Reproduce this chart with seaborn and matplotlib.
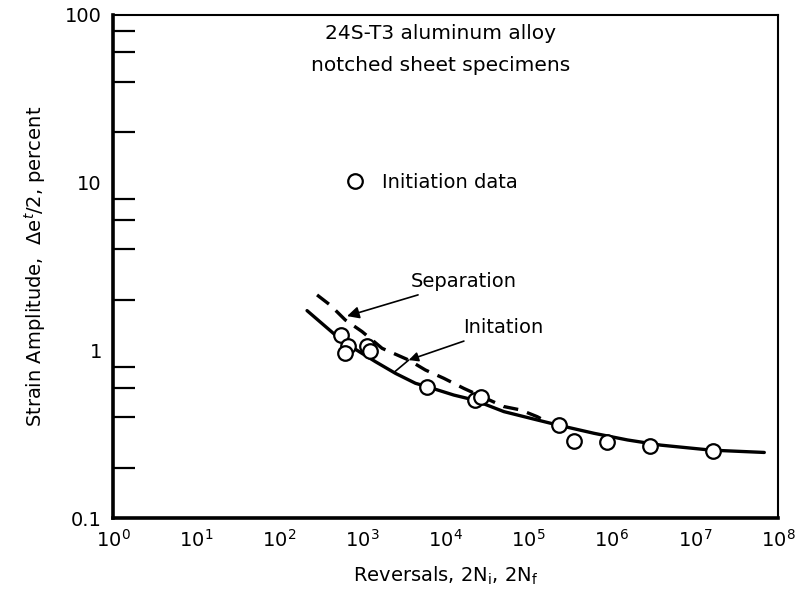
import numpy as np
import pandas as pd
import matplotlib
matplotlib.use("Agg")
import matplotlib.pyplot as plt
import seaborn as sns

# ---- data ----
init_x = [550, 677, 624, 1150, 1230, 6000, 22400, 26500, 232000, 352000, 870000, 2.9e6, 1.63e7]
init_y = [1.23, 1.06, 0.96, 1.06, 0.985, 0.607, 0.506, 0.525, 0.359, 0.288, 0.283, 0.27, 0.252]

solid_x = [216, 473, 785, 1435, 2500, 4350, 6020, 12600, 21900, 50400, 1.06e5, 2.22e5,
           6.12e5, 1.55e6, 3.9e6, 1.56e7, 6.84e7]
solid_y = [1.725, 1.234, 1.03, 0.856, 0.729, 0.636, 0.607, 0.541, 0.506, 0.431, 0.393, 0.359,
           0.320, 0.292, 0.272, 0.254, 0.246]

sep_x = [285, 411, 624, 992, 1727, 3610, 5740, 9550, 16600, 50400, 80100, 1.27e5, 1.6e5]
sep_y = [2.14, 1.86, 1.516, 1.293, 1.028, 0.875, 0.763, 0.681, 0.593, 0.462, 0.441, 0.402, 0.378]

x_ticks = [1e0, 1e1, 1e2, 1e3, 1e4, 1e5, 1e6, 1e7, 1e8]
x_ticklabels = [r"$10^{%d}$" % i for i in range(9)]
y_ticks = [0.1, 1, 10, 100]
y_ticklabels = ["0.1", "1", "10", "100"]

title_lines = ["24S-T3 aluminum alloy", "notched sheet specimens"]

sns.set_theme(style="white")
plt.rcParams['font.family'] = ['DejaVu Sans']
plt.rcParams['mathtext.fontset'] = 'dejavusans'

fig = plt.figure(figsize=(8.05, 6.06), dpi=100)
ax = fig.add_axes([113/805, 1-518/606, 665/805, 503/606])

df_solid = pd.DataFrame({"x": solid_x, "y": solid_y})
df_sep = pd.DataFrame({"x": sep_x, "y": sep_y})
df_init = pd.DataFrame({"x": init_x, "y": init_y})

ax.set_xscale("log")
ax.set_yscale("log")

sns.lineplot(data=df_solid, x="x", y="y", ax=ax, color="black", lw=2.4, sort=True)
sns.lineplot(data=df_sep, x="x", y="y", ax=ax, color="black", lw=2.4, sort=True,
             dashes=False, linestyle=(0, (4.5, 2.8)))
sns.scatterplot(data=df_init, x="x", y="y", ax=ax, marker="o", s=110,
                facecolor="white", edgecolor="black", linewidth=1.6, zorder=5)

ax.set_xlim(1, 1e8)
ax.set_ylim(0.1, 100)

ax.set_xticks(x_ticks)
ax.set_xticklabels(x_ticklabels, fontsize=14)
ax.xaxis.set_minor_locator(matplotlib.ticker.NullLocator())
ax.set_yticks(y_ticks)
ax.set_yticklabels(y_ticklabels, fontsize=14)
ax.yaxis.set_minor_locator(matplotlib.ticker.LogLocator(base=10, subs=[2, 4, 6, 8]))
ax.yaxis.set_minor_formatter(matplotlib.ticker.NullFormatter())

ax.tick_params(axis="x", which="major", direction="in", length=19, width=1.6, pad=8, colors="black")
ax.tick_params(axis="y", which="major", direction="in", length=27, width=1.6, pad=8, colors="black")
ax.tick_params(axis="y", which="minor", direction="in", length=16, width=1.6, colors="black", left=True)

for side in ["left", "bottom"]:
    ax.spines[side].set_linewidth(2.6)
    ax.spines[side].set_color("black")
for side in ["top", "right"]:
    ax.spines[side].set_linewidth(1.5)
    ax.spines[side].set_color("black")

ax.set_xlabel(r"Reversals, 2N$_{\mathregular{i}}$, 2N$_{\mathregular{f}}$", fontsize=14, labelpad=10, color="black")
ax.set_ylabel(r"Strain Amplitude,  $\Delta$e$^{t}$/2, percent", fontsize=14, labelpad=12, color="black")

ax.text(0.493, 0.964, title_lines[0], transform=ax.transAxes, ha="center", va="center", fontsize=14.5, color="black")
ax.text(0.493, 0.900, title_lines[1], transform=ax.transAxes, ha="center", va="center", fontsize=14.5, color="black")

# legend-like label
ax.scatter([824], [10.2], s=110, facecolor="white", edgecolor="black", linewidth=1.6, zorder=5)
ax.text(1740, 10.0, "Initiation data", fontsize=14, ha="left", va="center", color="black")

ax.annotate("Separation", xy=(654, 1.60), xytext=(3790, 2.58), fontsize=14, ha="left", va="center",
            arrowprops=dict(arrowstyle="-|>", color="black", lw=1.2, mutation_scale=18,
                            shrinkA=2, shrinkB=0), color="black")
ax.annotate("Initation", xy=(3610, 0.875), xytext=(16500, 1.37), fontsize=14, ha="left", va="center",
            arrowprops=dict(arrowstyle="-|>", color="black", lw=1.2, mutation_scale=14,
                            shrinkA=2, shrinkB=0), color="black")
ax.annotate("", xy=(2450, 0.745), xytext=(3610, 0.875),
            arrowprops=dict(arrowstyle="-", color="black", lw=1.2, shrinkA=0, shrinkB=0))

fig.savefig("out.png", dpi=100)
